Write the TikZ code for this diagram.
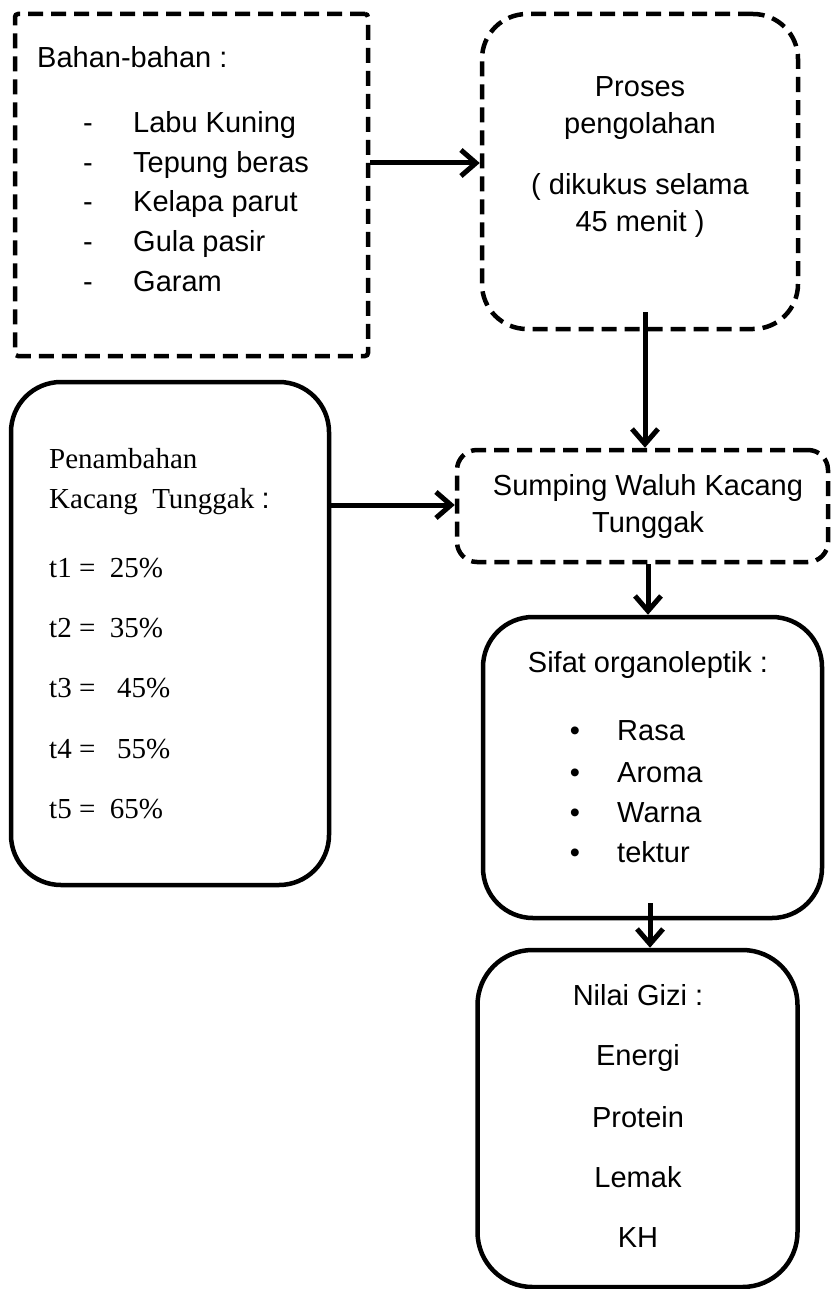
\documentclass[tikz,border=0pt]{standalone}
\usepackage{fontspec}
\setmainfont{Liberation Sans}
\newfontfamily\tms{Liberation Serif}
\usetikzlibrary{arrows.meta}
\begin{document}
\begin{tikzpicture}[x=1pt,y=-1pt,
  box/.style={draw=black,line width=4.5pt,inner sep=0pt,fill=none},
  dbox/.style={box,dash pattern=on 15pt off 8pt},
  txt/.style={inner sep=0pt,font=\fontsize{29}{34}\selectfont},
  ttxt/.style={inner sep=0pt,font=\tms\fontsize{29}{34}\selectfont},
  arr/.style={line width=5pt,-{Straight Barb[length=15pt,width=26pt]}}]
\useasboundingbox (0,0) rectangle (831,1289);
% boxes
\node[dbox,rounded corners=3pt,minimum width=353pt,minimum height=342pt] (b1) at (191.5,185) {};
\node[dbox,rounded corners=45pt,minimum width=316pt,minimum height=315pt] (b2) at (640,171.5) {};
\node[box,rounded corners=50pt,minimum width=318pt,minimum height=503pt] (b3) at (170,633.5) {};
\node[dbox,rounded corners=20pt,minimum width=371pt,minimum height=112pt] (b4) at (642.5,506) {};
\node[box,rounded corners=50pt,minimum width=339pt,minimum height=301pt] (b5) at (652.5,767.5) {};
\node[box,rounded corners=55pt,minimum width=320pt,minimum height=337pt] (b6) at (637.5,1118.5) {};
% box 1 text
\node[txt,anchor=base west] (t1a) at (37,68) {Bahan-bahan :};
\foreach \y/\s [count=\i] in {133/Labu Kuning,172.5/Tepung beras,212/Kelapa parut,251.5/Gula pasir,291/Garam}{
  \node[txt,anchor=base] (d\i) at (88,\y) {-};
  \node[txt,anchor=base west] (l\i) at (133,\y) {\s};
}
% box 2 text
\node[txt,anchor=base] (t2a) at (640,97) {Proses};
\node[txt,anchor=base] (t2b) at (640,134) {pengolahan};
\node[txt,anchor=base] (t2c) at (640,195) {( dikukus selama};
\node[txt,anchor=base] (t2d) at (640,232) {45 menit )};
% box 3 text
\node[ttxt,anchor=base west] (t3a) at (49,468) {Penambahan};
\node[ttxt,anchor=base west] (t3b) at (49,508) {Kacang \ Tunggak {\fontspec{Liberation Sans}:}};
\node[ttxt,anchor=base west] (p1) at (49,577) {t1 = \ 25\%};
\node[ttxt,anchor=base west] (p2) at (49,637) {t2 = \ 35\%};
\node[ttxt,anchor=base west] (p3) at (49,697) {t3 = \ \ 45\%};
\node[ttxt,anchor=base west] (p4) at (49,758) {t4 = \ \ 55\%};
\node[ttxt,anchor=base west] (p5) at (49,818) {t5 = \ 65\%};
% box 4 text
\node[txt,anchor=base] (t4a) at (648,495) {Sumping Waluh Kacang};
\node[txt,anchor=base] (t4b) at (648,532) {Tunggak};
% box 5 text
\node[txt,anchor=base] (t5a) at (648,672) {Sifat organoleptik :};
\foreach \y/\s [count=\i] in {740/Rasa,782/Aroma,822/Warna,862/tektur}{
  \node[txt,anchor=base] (bu\i) at (575,\y) {•};
  \node[txt,anchor=base west] (s\i) at (617,\y) {\s};
}
% box 6 text
\node[txt,anchor=base] (t6a) at (638,1005) {Nilai Gizi :};
\node[txt,anchor=base] (t6b) at (638,1065) {Energi};
\node[txt,anchor=base] (t6c) at (638,1127) {Protein};
\node[txt,anchor=base] (t6d) at (638,1187) {Lemak};
\node[txt,anchor=base] (t6e) at (638,1247) {KH};
% arrows
\coordinate (y1) at (0,163);
\coordinate (x2) at (645,312);
\coordinate (y3) at (0,505);
\coordinate (x4) at (648,0);
\coordinate (x5) at (650,903);
\draw[arr] (b1.east |- y1) -- (b2.west |- y1);
\draw[arr] (x2) -- (x2 |- b4.north);
\draw[arr] (b3.east |- y3) -- (b4.west |- y3);
\draw[arr] (x4 |- b4.south) -- (x4 |- b5.north);
\draw[arr] (x5) -- (x5 |- b6.north);
\end{tikzpicture}
\end{document}
